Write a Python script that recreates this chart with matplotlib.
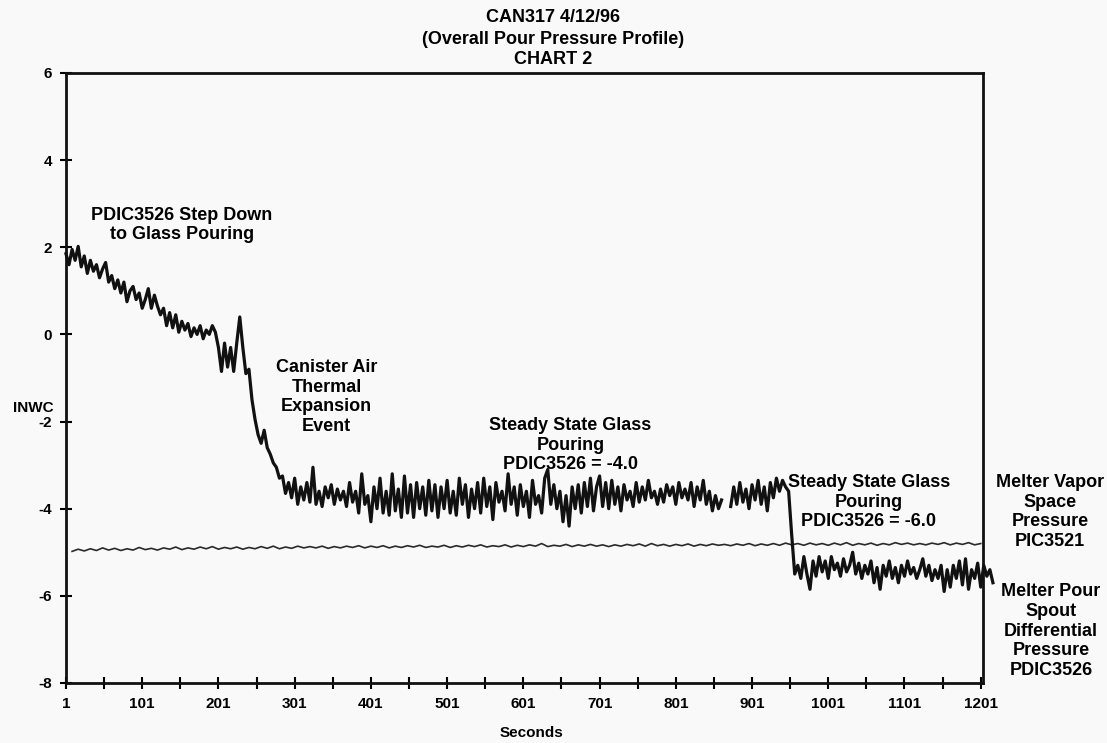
import numpy as np
import matplotlib.pyplot as plt

# =============================================================================
# Data (INWC vs seconds)
# =============================================================================
# PDIC3526 - melter pour spout differential pressure, one value every 4 s from t=1
pdic3526 = [
    1.85, 1.60, 1.95, 1.70, 2.02, 1.55, 1.80, 1.40, 1.70, 1.45,
    1.60, 1.30, 1.50, 1.65, 1.20, 1.35, 1.05, 1.25, 0.95, 1.20,
    0.75, 1.00, 1.10, 0.80, 0.95, 0.60, 0.80, 1.05, 0.60, 0.90,
    0.65, 0.45, 0.60, 0.20, 0.50, 0.15, 0.45, 0.05, 0.30, 0.10,
    0.25, -0.05, 0.15, 0.00, 0.20, -0.10, 0.10, 0.00, 0.20, 0.05,
    -0.30, -0.85, -0.20, -0.75, -0.30, -0.85, -0.20, 0.40, -0.30, -0.90,
    -0.80, -1.50, -1.95, -2.30, -2.50, -2.20, -2.60, -2.75, -2.95, -3.05,
    -3.30, -3.25, -3.65, -3.40, -3.75, -3.30, -3.90, -3.50, -3.80, -3.40,
    -3.85, -3.05, -3.90, -3.60, -3.95, -3.50, -3.75, -3.45, -3.90, -3.55,
    -3.80, -3.60, -3.95, -3.40, -3.85, -3.60, -4.10, -3.20, -3.90, -3.70,
    -4.30, -3.50, -4.00, -3.30, -4.10, -3.60, -4.15, -3.20, -4.05, -3.55,
    -4.20, -3.25, -4.10, -3.45, -4.20, -3.40, -4.00, -3.50, -4.15, -3.35,
    -4.05, -3.45, -4.20, -3.50, -4.00, -3.35, -4.10, -3.60, -4.15, -3.30,
    -3.90, -3.45, -4.20, -3.55, -4.00, -3.40, -4.10, -3.30, -3.95, -3.50,
    -4.25, -3.40, -3.85, -3.60, -4.05, -3.20, -3.90, -3.50, -4.15, -3.45,
    -3.95, -3.60, -4.20, -3.35, -3.90, -3.70, -4.10, -3.30, -3.10, -3.90,
    -3.45, -4.00, -3.60, -4.30, -3.70, -4.40, -3.50, -4.00, -3.45, -4.10,
    -3.40, -3.95, -3.30, -4.05, -3.50, -3.25, -3.95, -3.40, -4.00, -3.35,
    -3.90, -3.50, -4.05, -3.45, -3.80, -3.60, -3.95, -3.40, -3.85, -3.50,
    -3.80, -3.35, -3.75, -3.60, -3.90, -3.55, -3.85, -3.45, -3.70, -3.50,
    -3.90, -3.40, -3.75, -3.55, -3.80, -3.40, -3.95, -3.50, -3.80, -3.35,
    -3.90, -3.60, -4.05, -3.70, -4.00, -3.80, np.nan, np.nan, -3.95, -3.50,
    -3.90, -3.40, -3.85, -3.55, -4.00, -3.45, -3.80, -3.35, -3.90, -3.50,
    -4.05, -3.40, -3.75, -3.30, -3.60, -3.35, -3.50, -3.60, -4.60, -5.50,
    -5.30, -5.60, -5.10, -5.50, -5.85, -5.20, -5.55, -5.10, -5.45, -5.20,
    -5.60, -5.10, -5.40, -5.25, -5.55, -5.15, -5.45, -5.30, -5.00, -5.50,
    -5.25, -5.60, -5.30, -5.50, -5.20, -5.70, -5.35, -5.85, -5.30, -5.55,
    -5.20, -5.60, -5.35, -5.70, -5.30, -5.55, -5.20, -5.50, -5.35, -5.60,
    -5.40, -5.15, -5.55, -5.30, -5.65, -5.40, -5.60, -5.30, -5.90, -5.40,
    -5.80, -5.30, -5.60, -5.20, -5.75, -5.15, -5.85, -5.40, -5.60, -5.25,
    -5.80, -5.30, -5.55, -5.40, -5.70,
]

# PIC3521 - melter vapor space pressure, one value every 8 s from t=9
pic3521 = [
    -4.98, -4.93, -4.97, -4.92, -4.96, -4.90, -4.95, -4.91, -4.96, -4.92,
    -4.95, -4.89, -4.94, -4.91, -4.95, -4.90, -4.93, -4.88, -4.94, -4.90,
    -4.93, -4.88, -4.92, -4.87, -4.93, -4.89, -4.92, -4.88, -4.93, -4.89,
    -4.92, -4.87, -4.91, -4.86, -4.92, -4.88, -4.91, -4.86, -4.90, -4.87,
    -4.90, -4.86, -4.91, -4.87, -4.90, -4.86, -4.89, -4.85, -4.90, -4.86,
    -4.89, -4.85, -4.90, -4.86, -4.89, -4.85, -4.88, -4.84, -4.89, -4.86,
    -4.88, -4.84, -4.89, -4.85, -4.88, -4.84, -4.87, -4.83, -4.88, -4.85,
    -4.87, -4.83, -4.88, -4.84, -4.87, -4.83, -4.86, -4.80, -4.87, -4.84,
    -4.86, -4.82, -4.87, -4.83, -4.86, -4.82, -4.86, -4.83, -4.87, -4.83,
    -4.86, -4.82, -4.85, -4.81, -4.86, -4.80, -4.85, -4.82, -4.86, -4.82,
    -4.85, -4.81, -4.86, -4.82, -4.85, -4.81, -4.84, -4.82, -4.85, -4.81,
    -4.84, -4.80, -4.85, -4.81, -4.84, -4.80, -4.84, -4.79, -4.83, -4.80,
    -4.84, -4.79, -4.83, -4.80, -4.84, -4.79, -4.83, -4.78, -4.84, -4.80,
    -4.83, -4.79, -4.84, -4.80, -4.83, -4.78, -4.82, -4.79, -4.83, -4.80,
    -4.83, -4.79, -4.82, -4.78, -4.83, -4.79, -4.82, -4.78, -4.83, -4.80,
]

t_pdic = 1 + 4 * np.arange(len(pdic3526))
t_pic = 9 + 8 * np.arange(len(pic3521))

xticks = np.arange(1, 1202, 100)
xminor = np.arange(51, 1202, 100)
yticks = [-8, -6, -4, -2, 0, 2, 4, 6]

# =============================================================================
# Plot
# =============================================================================
plt.rcParams['font.family'] = ['Liberation Sans', 'DejaVu Sans']
plt.rcParams['font.weight'] = 'bold'
plt.rcParams['axes.unicode_minus'] = False

fig = plt.figure(figsize=(11.07, 7.43), dpi=100, facecolor='#f9f9f9')
ax = fig.add_axes([0.0596, 0.0808, 0.8284, 0.821])
ax.set_facecolor('#f9f9f9')

ax.plot(t_pic, pic3521, color='#2a2a2a', lw=1.2)
ax.plot(t_pdic, pdic3526, color='#111111', lw=2.3, clip_on=False)

ax.set_xlim(1, 1204)
ax.set_ylim(-8, 6)
ax.set_xticks(xticks)
ax.set_xticks(xminor, minor=True)
ax.set_yticks(yticks)
ax.tick_params(which='both', direction='inout', length=8, width=1.5,
               labelsize=11, pad=6)
for lab in ax.get_xticklabels() + ax.get_yticklabels():
    lab.set_fontweight('bold')
for s in ax.spines.values():
    s.set_linewidth(2)
    s.set_color('#111111')

# axis labels placed like the original
fig.text(33 / 1107, 1 - 408 / 743, 'INWC', ha='center', va='center',
         fontsize=11)
fig.text(531 / 1107, 1 - 733 / 743, 'Seconds', ha='center', va='center',
         fontsize=11)

# title
fig.text(0.5, 1 - 18 / 743, 'CAN317 4/12/96', ha='center', va='center',
         fontsize=13)
fig.text(0.5, 1 - 39 / 743, '(Overall Pour Pressure Profile)', ha='center',
         va='center', fontsize=13)
fig.text(0.5, 1 - 60 / 743, 'CHART 2', ha='center', va='center', fontsize=13)

# annotations
txt = dict(ha='center', va='center', fontsize=13, linespacing=1.2)
ax.text(153, 2.51, 'PDIC3526 Step Down\nto Glass Pouring', **txt)
ax.text(343, -1.44, 'Canister Air\nThermal\nExpansion\nEvent', **txt)
ax.text(663, -2.54, 'Steady State Glass\nPouring\nPDIC3526 = -4.0', **txt)
ax.text(1054, -3.85, 'Steady State Glass\nPouring\nPDIC3526 = -6.0', **txt)
fig.text(1050 / 1107, 1 - 512 / 743, 'Melter Vapor\nSpace\nPressure\nPIC3521',
         **txt)
fig.text(1051 / 1107, 1 - 631 / 743,
         'Melter Pour\nSpout\nDifferential\nPressure\nPDIC3526', **txt)

fig.savefig('out.png', dpi=100, facecolor=fig.get_facecolor())
